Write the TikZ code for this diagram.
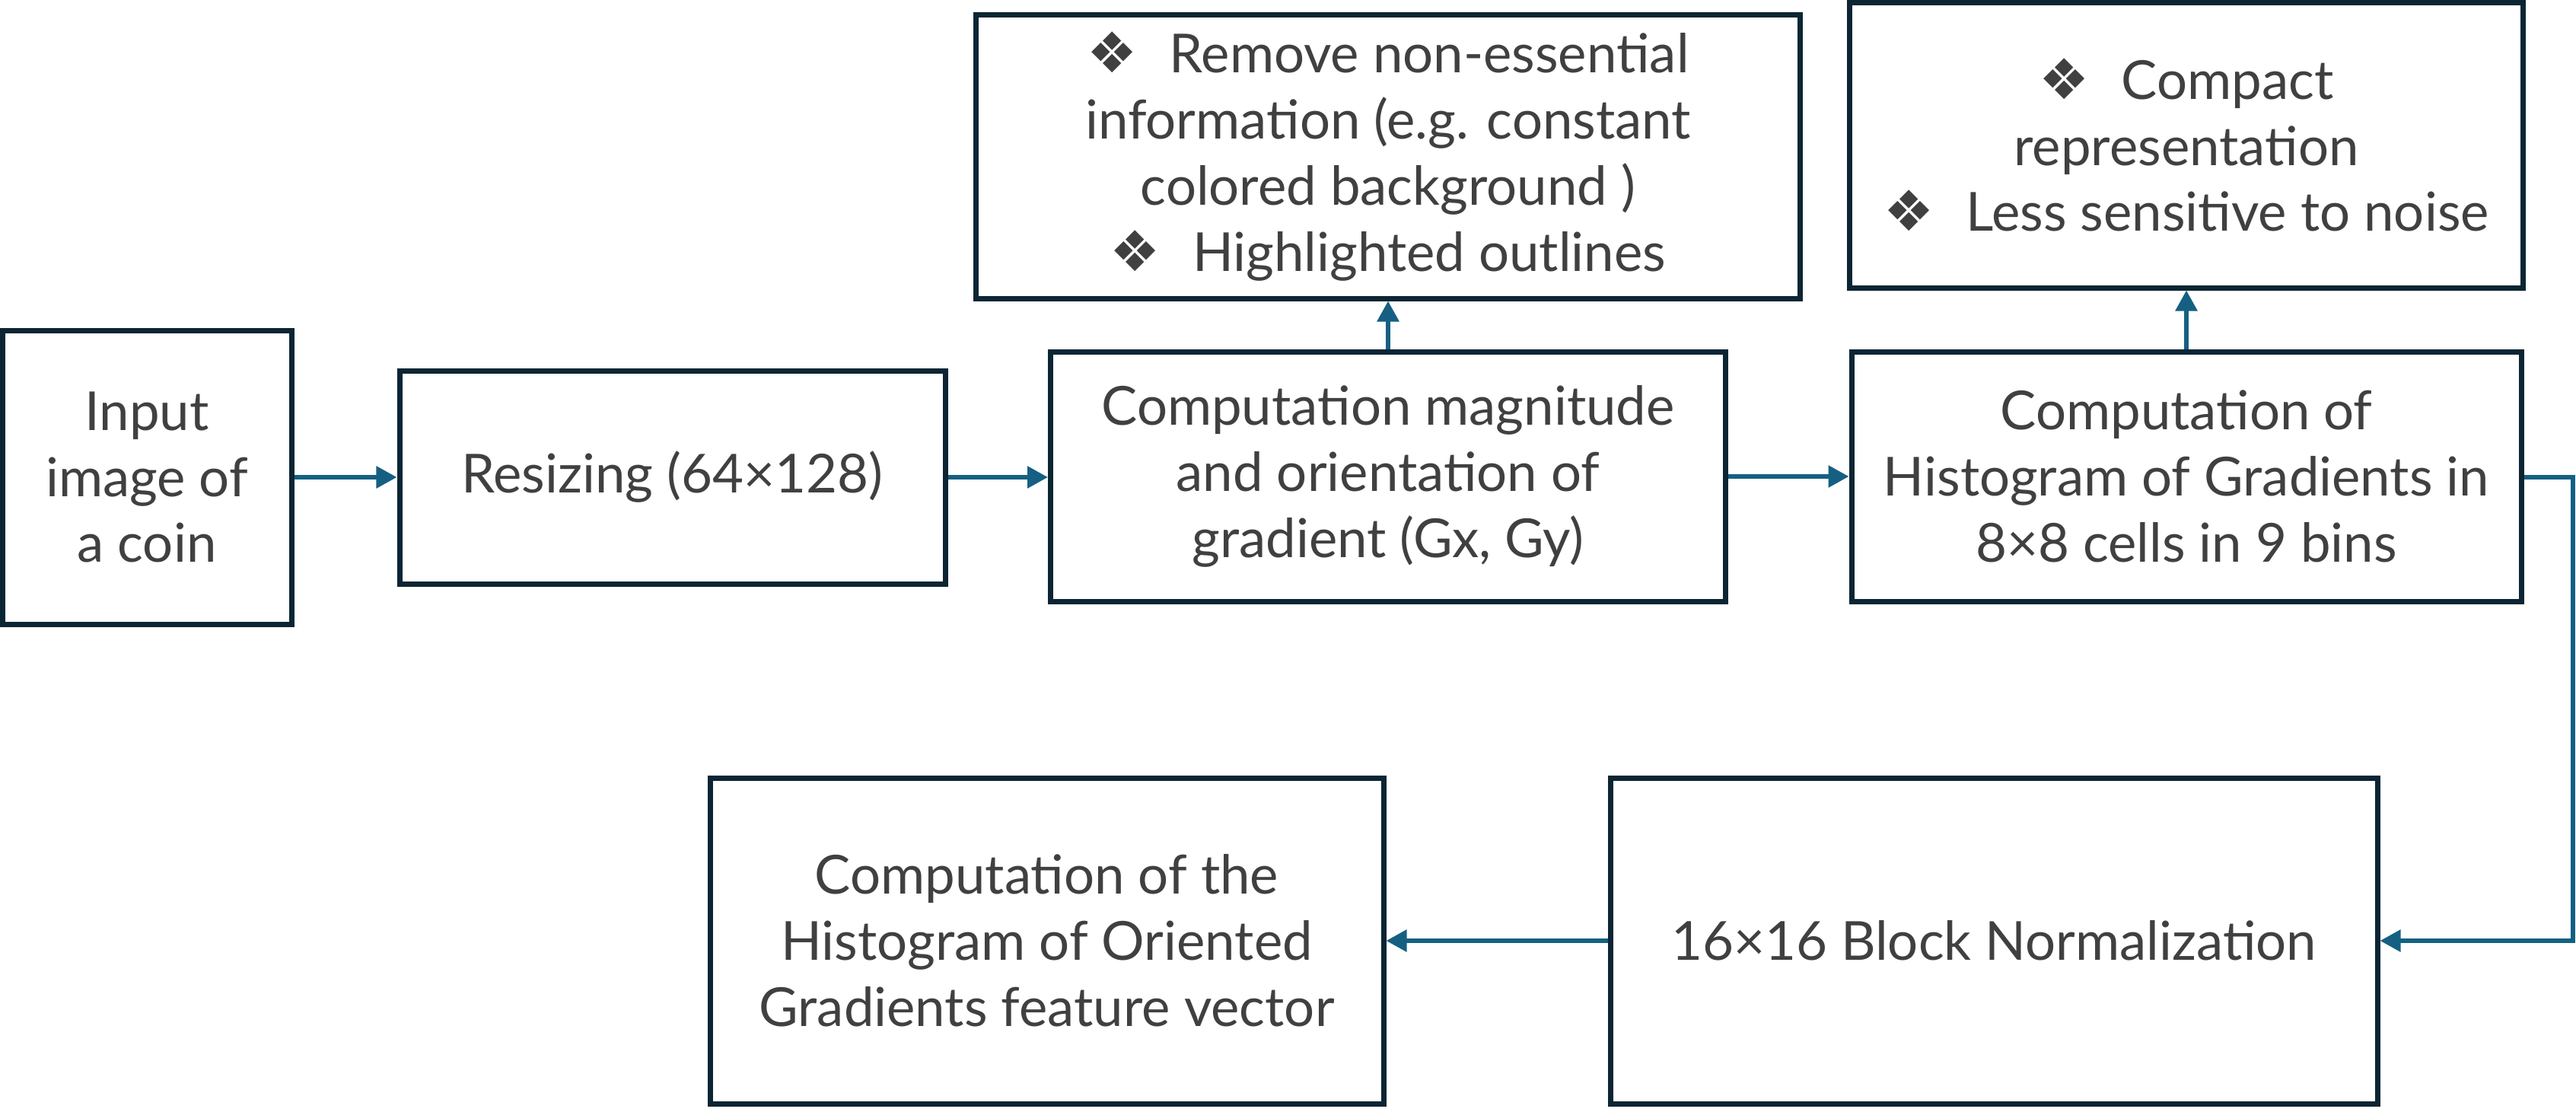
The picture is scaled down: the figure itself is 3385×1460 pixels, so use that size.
\documentclass[tikz,border=0pt]{standalone}
\usepackage{fontspec}
\setmainfont{Lato}
\newfontfamily\symfont{DejaVu Sans}
\usetikzlibrary{arrows.meta}
\definecolor{boxc}{HTML}{0B2533}
\definecolor{arrc}{HTML}{156082}
\definecolor{txtc}{HTML}{404040}
\newcommand{\bul}{{\symfont\fontsize{21}{21}\selectfont ❖}\hspace{0.42cm}}
\begin{document}
\begin{tikzpicture}[x=0.01cm,y=-0.01cm,
  blk/.style={draw=boxc, line width=0.07cm, rectangle, align=center, text=txtc,
    font=\fontsize{20.1}{24.7}\selectfont, inner sep=0pt},
  arr/.style={draw=arrc, line width=0.058cm, -{Triangle[length=0.27cm,width=0.28cm]}}]
\path[use as bounding box, fill=white] (0,0) rectangle (3385,1460);
\node[blk, minimum width=380*0.01cm, minimum height=386*0.01cm] (input) at (193,627) {Input\\image of\\a coin};
\node[blk, minimum width=717*0.01cm, minimum height=280*0.01cm] (resize) at (883.5,627) {Resizing (64×128)};
\node[blk, minimum width=887*0.01cm, minimum height=328*0.01cm] (comp) at (1824,626) {Computation magnitude\\and orientation of\\gradient (Gx, Gy)};
\node[blk, minimum width=1083*0.01cm, minimum height=373*0.01cm] (top1) at (1824,205.5) {\bul Remove non-essential\\information (e.g. constant\\colored background )\\\bul Highlighted outlines};
\node[blk, minimum width=880*0.01cm, minimum height=328*0.01cm] (hog) at (2873,626) {Computation of\\Histogram of Gradients in\\8×8 cells in 9 bins};
\node[blk, minimum width=885*0.01cm, minimum height=375*0.01cm] (top2) at (2873,190.5) {\bul Compact\\representation\\\bul Less sensitive to noise};
\node[blk, minimum width=885*0.01cm, minimum height=428*0.01cm] (bl) at (1375.5,1236) {Computation of the\\Histogram of Oriented\\Gradients feature vector};
\node[blk, minimum width=1008*0.01cm, minimum height=428*0.01cm] (br) at (2620,1236) {16×16 Block Normalization};
\coordinate (turn) at (3381,627);
\draw[arr] (input.east) -- (resize.west);
\draw[arr] (resize.east) -- (resize.east -| comp.west);
\draw[arr] (comp.east) -- (comp.east -| hog.west);
\draw[arr] (comp.north) -- (top1.south);
\draw[arr] (hog.north) -- (top2.south);
\draw[arr] (hog.east |- turn) -- (turn) |- (br.east);
\draw[arr] (br.west) -- (bl.east);
\end{tikzpicture}
\end{document}
